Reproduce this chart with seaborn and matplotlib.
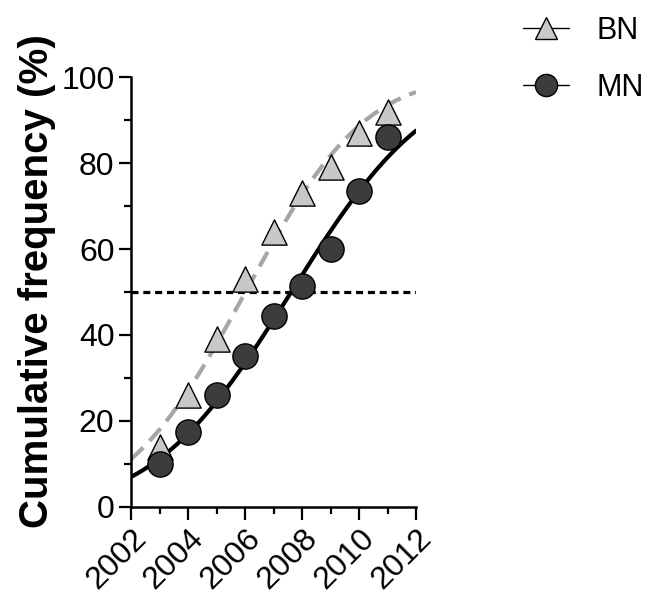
import math
import numpy as np
import pandas as pd
import matplotlib
matplotlib.use("Agg")
import matplotlib.pyplot as plt
from matplotlib.lines import Line2D
from matplotlib.ticker import MultipleLocator
import seaborn as sns

# cumulative frequency (%) per year
years = [2003, 2004, 2005, 2006, 2007, 2008, 2009, 2010, 2011]
bn = [14, 26, 39, 53, 64, 73, 79, 87, 92]
mn = [10, 17.5, 26, 35, 44.5, 51.5, 60, 73.5, 86]

df = pd.DataFrame({"year": years, "BN": bn, "MN": mn})

erf = np.vectorize(math.erf)


def norm_cdf(z):
    return 0.5 * (1 + erf(z / math.sqrt(2)))


def cumgauss_fit(x, y, n_iter=60):
    # least squares fit of 100*Phi((x-mu)/sd), Gauss-Newton
    x = np.asarray(x, float)
    y = np.asarray(y, float)
    mu, sd = x.mean(), 3.0
    for _ in range(n_iter):
        z = (x - mu) / sd
        f = 100 * norm_cdf(z)
        pdf = 100 * np.exp(-z ** 2 / 2) / math.sqrt(2 * math.pi)
        J = np.column_stack([-pdf / sd, -pdf * z / sd])
        step = np.linalg.lstsq(J, y - f, rcond=None)[0]
        mu, sd = mu + step[0], sd + step[1]
    xx = np.linspace(2002, 2012, 200)
    return xx, 100 * norm_cdf((xx - mu) / sd)


sns.set_style("ticks", rc={"axes.edgecolor": "black", "xtick.color": "black",
                           "ytick.color": "black", "text.color": "black",
                           "axes.labelcolor": "black"})
plt.rcParams["font.family"] = ["Liberation Sans", "DejaVu Sans"]

fig = plt.figure(figsize=(6.49, 5.99), dpi=100)
ax = fig.add_axes([0.202, 0.154, 0.439, 0.717])

xb, yb = cumgauss_fit(df.year, df.BN)
xm, ym = cumgauss_fit(df.year, df.MN)
sns.lineplot(x=xb, y=yb, ax=ax, color="#a6a6a6", lw=3, zorder=2)
ax.lines[-1].set_dashes([4, 2.2])
sns.lineplot(x=xm, y=ym, ax=ax, color="black", lw=3, zorder=2)
ax.plot([2002, 2012], [50, 50], color="black", lw=2.3, dashes=[2.2, 1.5], zorder=1)

sns.scatterplot(data=df, x="year", y="BN", ax=ax, marker="^", s=330,
                color="#c8c8c8", edgecolor="black", linewidth=1, zorder=3)
sns.scatterplot(data=df, x="year", y="MN", ax=ax, marker="o", s=330,
                color="#3c3c3c", edgecolor="black", linewidth=1, zorder=4)

ax.set_xlim(2002, 2012)
ax.set_ylim(0, 100)
ax.xaxis.set_major_locator(MultipleLocator(2))
ax.xaxis.set_minor_locator(MultipleLocator(1))
ax.yaxis.set_major_locator(MultipleLocator(20))
ax.yaxis.set_minor_locator(MultipleLocator(10))
ax.tick_params(which="major", length=9, width=1.6, labelsize=23, pad=3)
ax.tick_params(which="minor", length=5, width=1.6)
for s in ["left", "bottom"]:
    ax.spines[s].set_linewidth(1.8)
sns.despine(ax=ax)

plt.setp(ax.get_xticklabels(), rotation=45, ha="right", rotation_mode="anchor")
ax.set_xlabel("")
ax.set_ylabel("Cumulative frequency (%)", fontsize=29, fontweight="bold")
ax.yaxis.set_label_coords(-0.262, 0.525)

handles = [
    Line2D([], [], color="black", lw=1, marker="^", markersize=16,
           markerfacecolor="#c8c8c8", markeredgecolor="black"),
    Line2D([], [], color="black", lw=1, marker="o", markersize=16,
           markerfacecolor="#3c3c3c", markeredgecolor="black"),
]
fig.legend(handles, ["BN", "MN"], loc="upper left", bbox_to_anchor=(0.764, 1.02),
           frameon=False, fontsize=22, handlelength=1.5, labelspacing=0.9,
           handletextpad=0.9)

fig.savefig("out.png", dpi=100)
